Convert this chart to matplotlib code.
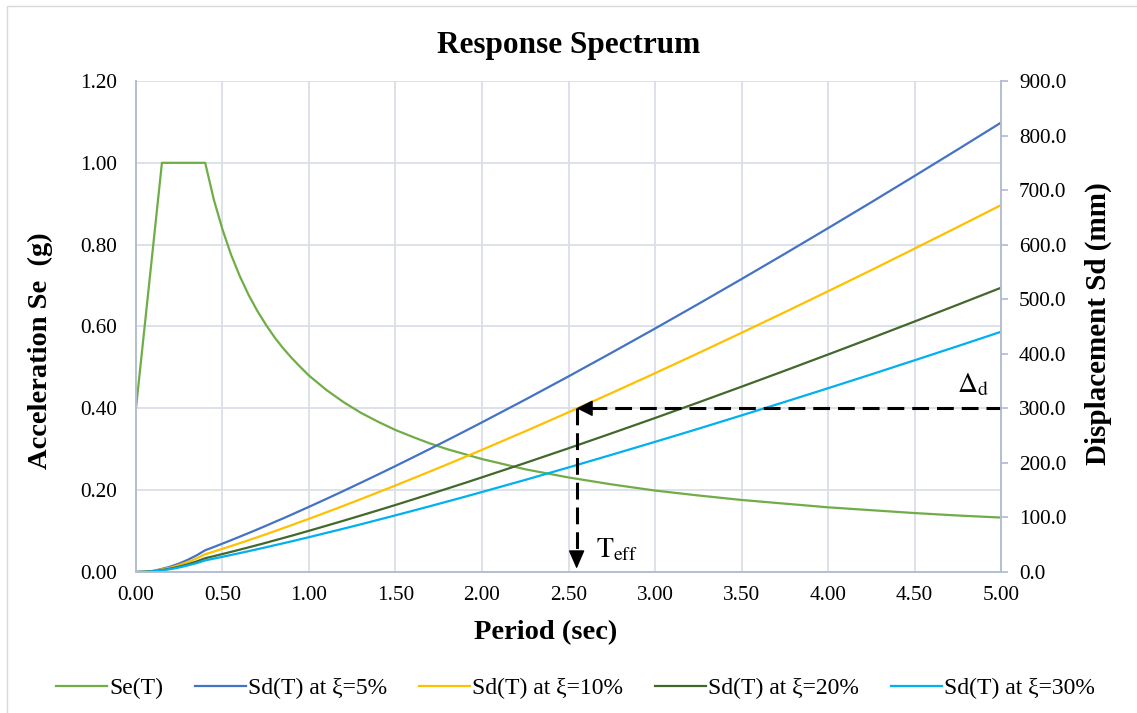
import matplotlib
matplotlib.use('Agg')
import matplotlib.pyplot as plt
from matplotlib.lines import Line2D
from matplotlib.patches import Rectangle

plt.rcParams['font.family'] = ['Liberation Serif', 'DejaVu Serif']
plt.rcParams['mathtext.fontset'] = 'stix'

# period (sec)
T = [0, 0.05, 0.10, 0.15, 0.20, 0.25, 0.30, 0.35, 0.40,
     0.45, 0.50, 0.55, 0.60, 0.65, 0.70, 0.75, 0.80, 0.85, 0.90, 0.95, 1.00,
     1.10, 1.20, 1.30, 1.40, 1.50, 1.60, 1.70, 1.80, 1.90, 2.00,
     2.25, 2.50, 2.75, 3.00, 3.25, 3.50, 3.75, 4.00, 4.25, 4.50, 4.75, 5.00]

# acceleration Se (g)
se = [0.40, 0.60, 0.80, 1.00, 1.00, 1.00, 1.00, 1.00, 1.00,
      0.910, 0.837, 0.775, 0.723, 0.678, 0.639, 0.605, 0.574, 0.547, 0.523, 0.501, 0.480,
      0.445, 0.415, 0.389, 0.367, 0.347, 0.330, 0.314, 0.300, 0.288, 0.276,
      0.251, 0.231, 0.214, 0.199, 0.187, 0.176, 0.167, 0.158, 0.151, 0.144, 0.138, 0.133]

# displacement Sd (mm)
sd_5 = [0, 0.4, 2.0, 5.6, 9.9, 15.5, 22.4, 30.4, 39.8,
        45.8, 52.0, 58.3, 64.7, 71.2, 77.8, 84.5, 91.4, 98.2, 105.2, 112.3, 119.4,
        133.9, 148.6, 163.6, 178.8, 194.2, 209.9, 225.7, 241.7, 257.9, 274.3,
        315.9, 358.5, 402.0, 446.2, 491.2, 536.9, 583.2, 630.2, 677.7, 725.9, 774.5, 823.7]
sd_10 = [0, 0.3, 1.6, 4.6, 8.1, 12.7, 18.3, 24.8, 32.5,
         37.4, 42.5, 47.6, 52.8, 58.1, 63.5, 69.0, 74.6, 80.2, 85.9, 91.7, 97.5,
         109.3, 121.3, 133.6, 146.0, 158.6, 171.4, 184.3, 197.3, 210.6, 224.0,
         257.9, 292.7, 328.2, 364.3, 401.1, 438.4, 476.2, 514.6, 553.3, 592.7, 632.4, 672.5]
sd_20 = [0, 0.3, 1.3, 3.5, 6.3, 9.8, 14.2, 19.2, 25.2,
         29.0, 32.9, 36.9, 40.9, 45.0, 49.2, 53.4, 57.8, 62.1, 66.5, 71.0, 75.5,
         84.7, 94.0, 103.5, 113.1, 122.8, 132.8, 142.8, 152.9, 163.1, 173.5,
         199.8, 226.7, 254.3, 282.2, 310.7, 339.6, 368.9, 398.6, 428.6, 459.1, 489.9, 521.0]
sd_30 = [0, 0.2, 1.1, 3.0, 5.3, 8.3, 12.0, 16.2, 21.3,
         24.5, 27.8, 31.2, 34.6, 38.1, 41.6, 45.2, 48.9, 52.5, 56.2, 60.0, 63.8,
         71.6, 79.4, 87.4, 95.6, 103.8, 112.2, 120.6, 129.2, 137.8, 146.6,
         168.8, 191.6, 214.9, 238.5, 262.5, 287.0, 311.7, 336.8, 362.2, 388.0, 414.0, 440.3]

labels = ['Se(T)', 'Sd(T) at ξ=5%', 'Sd(T) at ξ=10%', 'Sd(T) at ξ=20%', 'Sd(T) at ξ=30%']
colors = ['#70AD47', '#4472C4', '#FFC000', '#43682B', '#00B0F0']

T_EFF = 2.547
DELTA_D = 300

spine_c = '#B4BFD4'
grid_c = '#D9DEE8'

fig = plt.figure(figsize=(11.37, 7.13), dpi=100)
ax = fig.add_axes([0.1196, 0.1978, 0.7608, 0.6886])
ax2 = ax.twinx()

ax.plot(T, se, color=colors[0], lw=1.6)
for s, c in zip([sd_5, sd_10, sd_20, sd_30], colors[1:]):
    ax2.plot(T, s, color=c, lw=1.6)

ax.set_xlim(0, 5)
ax.set_ylim(0, 1.2)
ax2.set_ylim(0, 900)
ax.set_xticks([i * 0.5 for i in range(11)])
ax.set_yticks([i * 0.2 for i in range(7)])
ax2.set_yticks([i * 100 for i in range(10)])
ax.xaxis.set_major_formatter(lambda v, p: f'{v:.2f}')
ax.yaxis.set_major_formatter(lambda v, p: f'{v:.2f}')
ax2.yaxis.set_major_formatter(lambda v, p: f'{v:.1f}')

ax.grid(True, color=grid_c, lw=1.3)
ax.set_axisbelow(True)
for a in (ax, ax2):
    a.spines['top'].set_visible(False)
    for k in ('left', 'right', 'bottom'):
        a.spines[k].set_color(spine_c)
        a.spines[k].set_linewidth(1.3)
ax.tick_params(axis='x', length=0, pad=10, labelsize=15.3)
ax.tick_params(axis='y', length=0, pad=13.5, labelsize=15.3)
ax2.tick_params(axis='y', length=5, width=1.3, color=spine_c, pad=8, labelsize=15.3)

ax.set_xlabel('Period (sec)', fontsize=20.5, fontweight='bold')
ax.set_ylabel('Acceleration Se  (g)', fontsize=20.5, fontweight='bold')
ax2.set_ylabel('Displacement Sd (mm)', fontsize=21, fontweight='bold', rotation=90)
ax.xaxis.set_label_coords(0.473, -0.098)
ax.yaxis.set_label_coords(-0.096, 0.45)
ax2.yaxis.set_label_coords(1.097, 0.506)
fig.text(0.5, 0.9355, 'Response Spectrum', ha='center', va='center',
         fontsize=22.5, fontweight='bold')

# T_eff / delta_d arrows
ax2.plot([T_EFF + 0.08, 5], [DELTA_D, DELTA_D], color='k', lw=2.2, dashes=(5.5, 2.6))
ax2.annotate('', xy=(T_EFF, DELTA_D), xytext=(T_EFF + 0.085, DELTA_D),
             arrowprops=dict(arrowstyle='-|>,head_length=1.0,head_width=0.5',
                             color='k', lw=1, shrinkA=0, shrinkB=0))
ax2.plot([T_EFF, T_EFF], [DELTA_D, 35], color='k', lw=2.2, dashes=(5.5, 2.6))
ax2.annotate('', xy=(T_EFF, 6), xytext=(T_EFF, 36),
             arrowprops=dict(arrowstyle='-|>,head_length=1.15,head_width=0.5',
                             color='k', lw=1, shrinkA=0, shrinkB=0))
ax2.text(4.745, 329, r'$\Delta_{\mathrm{d}}$', fontsize=20, va='baseline')
ax2.text(2.659, 27.6, r'$\mathrm{T}_{\mathrm{eff}}$', fontsize=20, va='baseline')

handles = [Line2D([], [], color=c, lw=1.6) for c in colors]
fig.legend(handles, labels, loc='center', bbox_to_anchor=(0.506, 0.035), ncol=5,
           frameon=False, fontsize=17, handlelength=2.15, handletextpad=0.1,
           columnspacing=1.35)

fig.add_artist(Rectangle((7 / 1137, -0.05), 1.1, (713 - 6) / 713 + 0.05,
                         transform=fig.transFigure, fill=False, ec='#D9D9D9', lw=1))

fig.savefig('out.png', dpi=100)
